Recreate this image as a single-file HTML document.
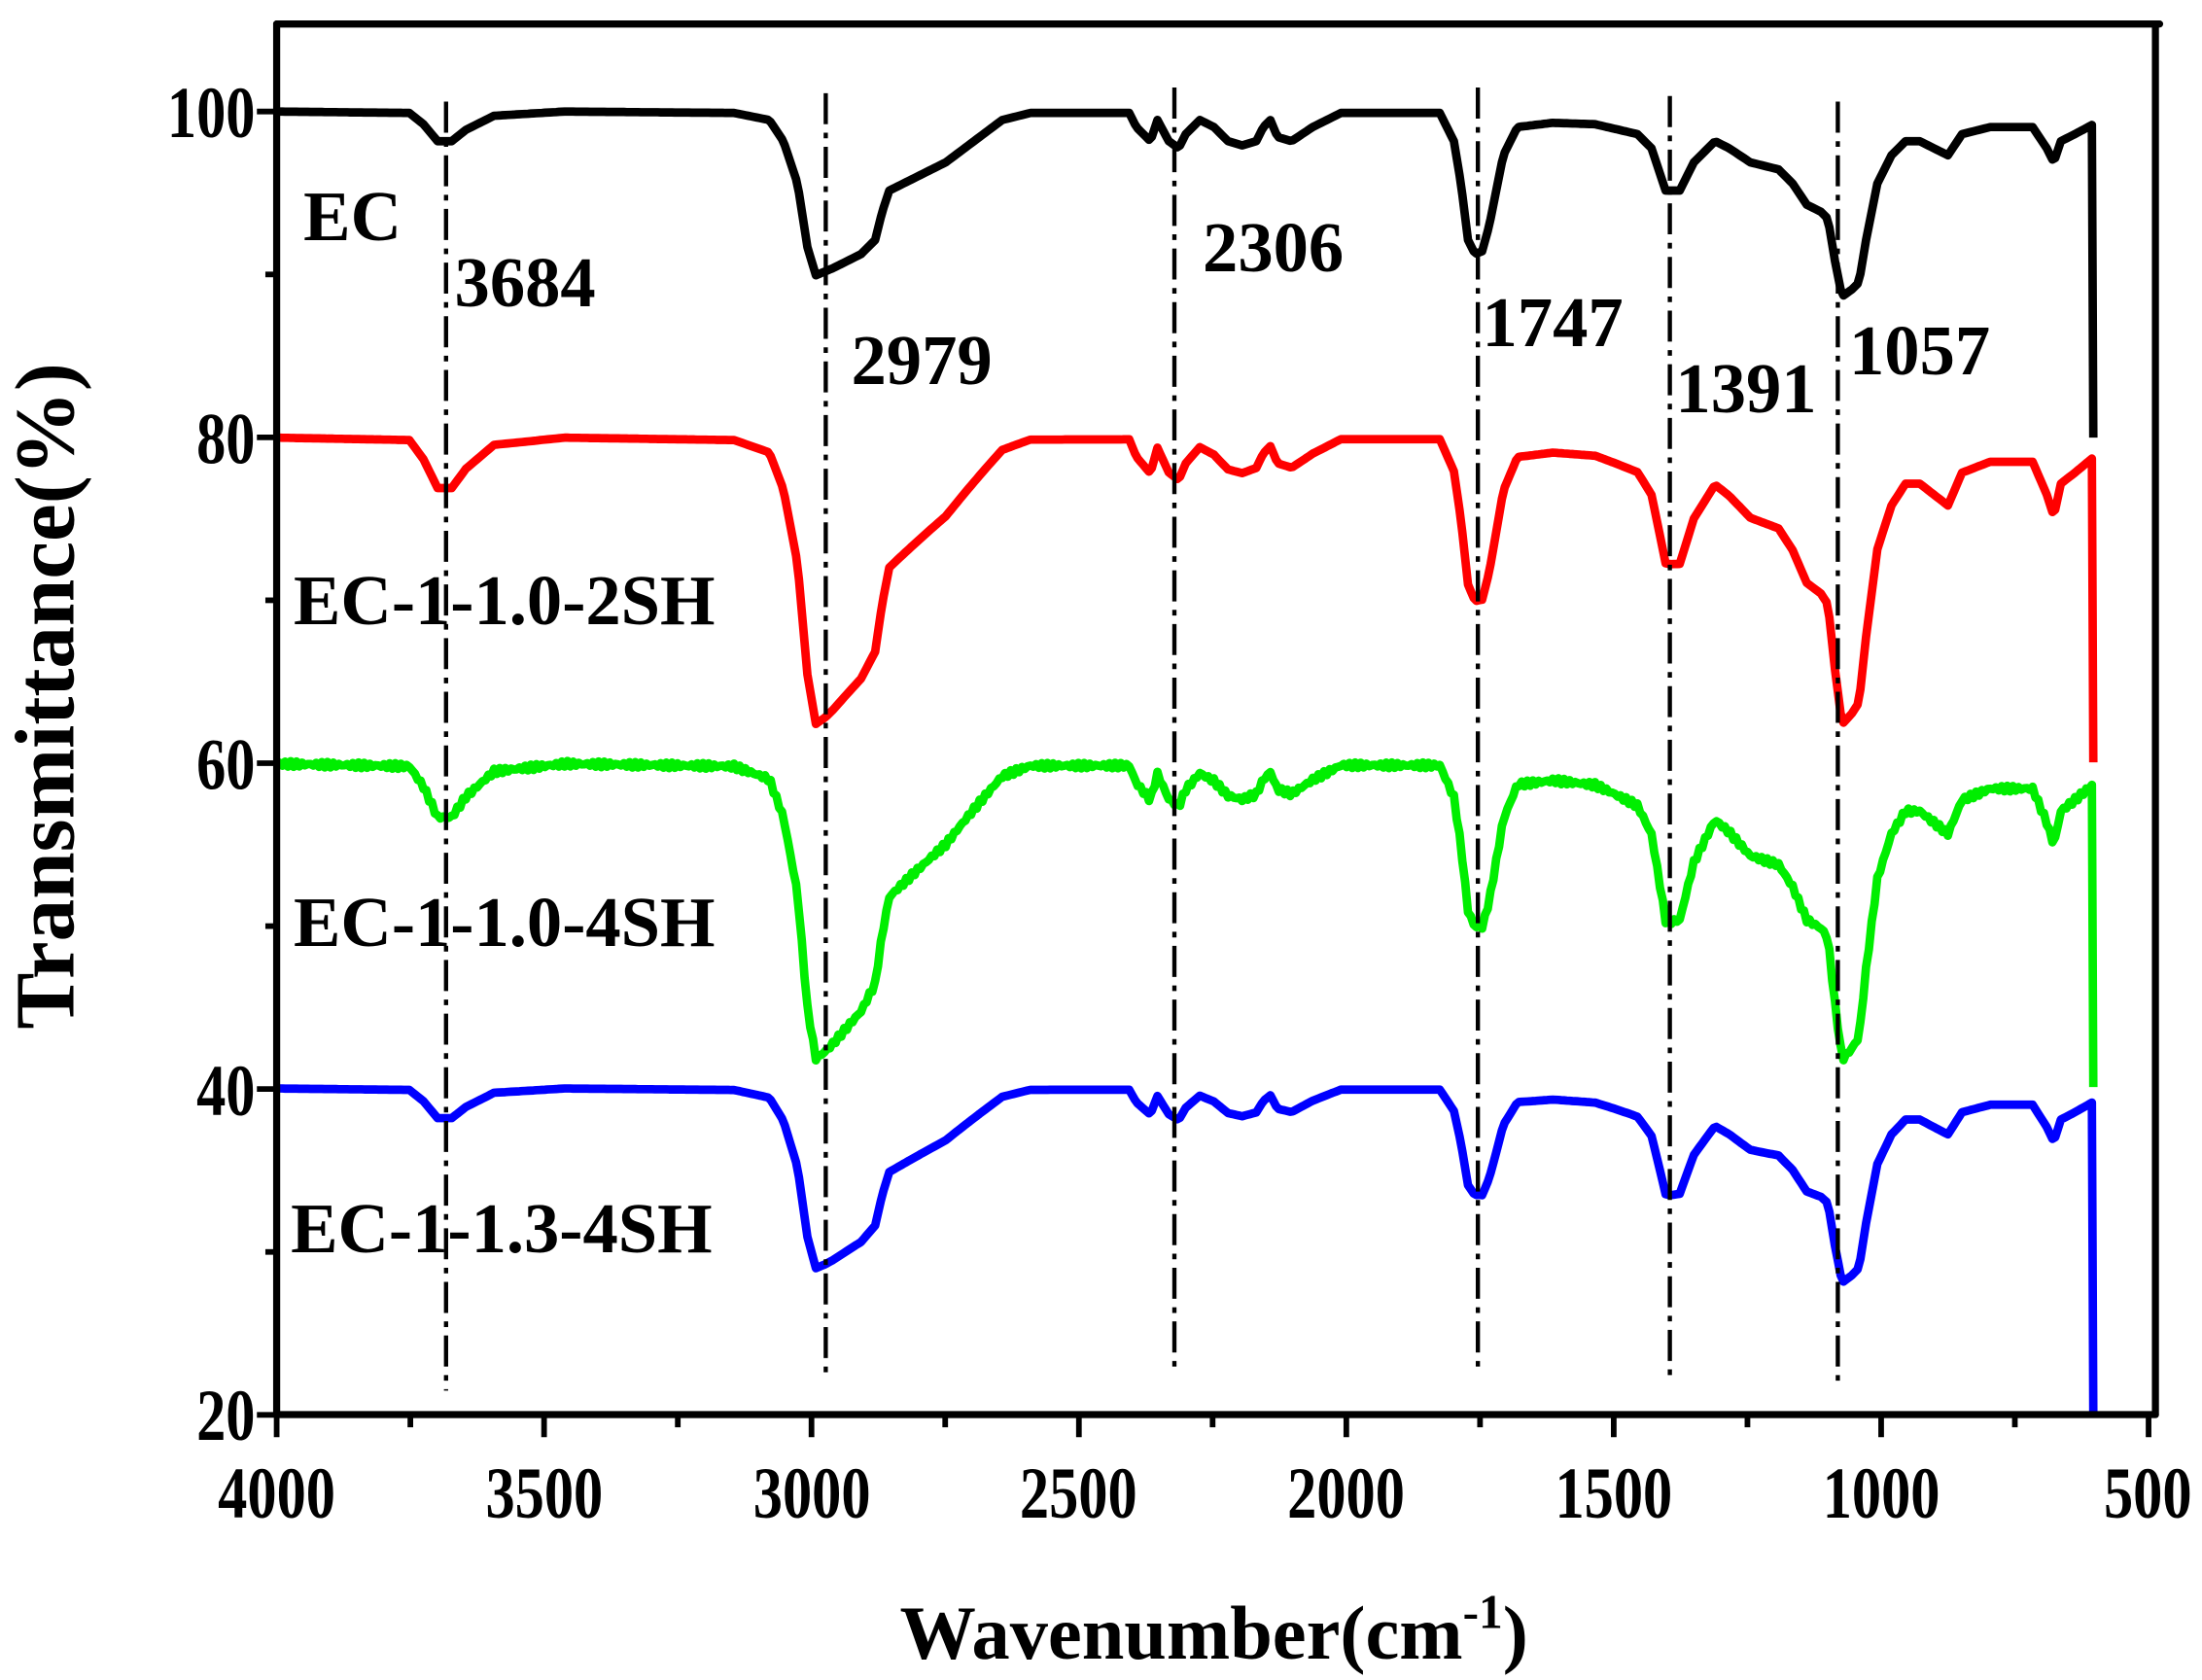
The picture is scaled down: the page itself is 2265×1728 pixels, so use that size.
<!DOCTYPE html>
<html><head><meta charset="utf-8"><style>
html,body{margin:0;padding:0;background:#fff;}
svg{display:block;}
text{font-family:"Liberation Serif",serif;font-weight:bold;fill:#000;}
</style></head><body>
<svg id="s" width="2265" height="1728" viewBox="0 0 1560 1190" preserveAspectRatio="none" xmlns="http://www.w3.org/2000/svg">
<g id="curves"></g>
<g stroke="#000" stroke-width="3" stroke-dasharray="22,6,4,6" fill="none">
<line x1="316" y1="72" x2="316" y2="985"/>
<line x1="585" y1="66" x2="585" y2="975"/>
<line x1="832" y1="62" x2="832" y2="970"/>
<line x1="1047" y1="62" x2="1047" y2="968"/>
<line x1="1183" y1="68" x2="1183" y2="978"/>
<line x1="1302" y1="72" x2="1302" y2="978"/>
</g>
<g stroke="#000" stroke-width="5" fill="none" stroke-linecap="round">
<line x1="196" y1="17" x2="196" y2="1002"/>
<line x1="196" y1="1002" x2="1527" y2="1002"/>
<line x1="196" y1="17" x2="1530" y2="17"/>
<line x1="1527" y1="17" x2="1527" y2="1002"/>
</g>
<g id="ticks" stroke="#000" stroke-width="4"></g>
<g font-size="52" text-anchor="middle" transform="scale(0.8,1)">
<text x="245" y="1075">4000</text><text x="482" y="1075">3500</text><text x="719" y="1075">3000</text>
<text x="955" y="1075">2500</text><text x="1192" y="1075">2000</text><text x="1429" y="1075">1500</text>
<text x="1666" y="1075">1000</text><text x="1902" y="1075">500</text>
</g>
<g font-size="52" text-anchor="end" transform="scale(0.8,1)">
<text x="226" y="97">100</text><text x="226" y="328">80</text><text x="226" y="559">60</text>
<text x="226" y="790">40</text><text x="226" y="1020">20</text>
</g>
<text x="860" y="1175" font-size="54" text-anchor="middle">Wavenumber(cm<tspan font-size="34" dy="-22">-1</tspan><tspan dy="22">)</tspan></text>
<text transform="translate(52,493) rotate(-90)" font-size="60" text-anchor="middle">Transmittance(%)</text>
<g font-size="50">
<text x="215" y="170">EC</text>
<text x="208" y="442">EC-1-1.0-2SH</text>
<text x="208" y="670">EC-1-1.0-4SH</text>
<text x="206" y="887">EC-1-1.3-4SH</text>
<text x="322" y="217">3684</text>
<text x="603" y="272">2979</text>
<text x="852" y="192">2306</text>
<text x="1050" y="245">1747</text>
<text x="1187" y="292">1391</text>
<text x="1310" y="265">1057</text>
</g>
</svg>
<script>
var P=[[196,79],[290,80],[300,88],[310,100],[320,100],[330,92],[350,82],[400,79],[520,80],[545,85],[555,100],[565,130],[572,175],[578,195],[590,190],[600,185],[610,180],[620,170],[625,150],[630,135],[650,125],[670,115],[690,100],[710,85],[730,80],[800,80],[805,90],[815,100],[820,85],[828,100],[835,105],[840,95],[850,85],[860,90],[870,100],[880,103],[890,100],[895,90],[900,85],[905,97],[915,100],[930,90],[950,80],[1020,80],[1030,100],[1035,130],[1040,170],[1045,180],[1050,178],[1055,160],[1065,110],[1075,90],[1100,87],[1130,88],[1160,95],[1170,105],[1175,120],[1180,135],[1190,135],[1200,115],[1215,100],[1225,105],[1240,115],[1260,120],[1270,130],[1280,145],[1290,150],[1295,155],[1300,185],[1305,210],[1312,205],[1317,200],[1322,170],[1330,130],[1340,110],[1350,100],[1360,100],[1370,105],[1380,110],[1390,95],[1410,90],[1440,90],[1450,105],[1455,115],[1460,100],[1470,95],[1483,88]];
var AX=[316,585,900,1047,1183,1302];
var S=[{c:"#000",o:0,f:[1,1,1,1,1,1],n:0,end:310},
{c:"#ff0000",o:231,f:[1.7,1.75,1,1.15,1.6,1.55],n:0,end:540},
{c:"#00ee00",o:462,f:[1.8,1.8,1,1.15,2.0,1.6],n:2,end:770},
{c:"#0000ff",o:692,f:[1.0,1.1,0.8,0.75,1.35,1.05],n:0,end:1002}];
function fac(x,f){if(x<=AX[0])return f[0];for(var i=0;i<AX.length-1;i++){if(x<=AX[i+1]){var t=(x-AX[i])/(AX[i+1]-AX[i]);return f[i]+(f[i+1]-f[i])*t;}}return f[f.length-1];}
function interp(x){for(var i=0;i<P.length-1;i++){if(x<=P[i+1][0]){var t=(x-P[i][0])/(P[i+1][0]-P[i][0]);return P[i][1]+(P[i+1][1]-P[i][1])*t;}}return P[P.length-1][1];}
var g=document.getElementById("curves"),h="";
S.forEach(function(s){var pts=[];for(var x=196;x<=1483;x+=2){var d=interp(x)-79;var y=79+s.o+d*fac(x,s.f)+(s.n?Math.sin(x*1.7)*s.n:0);pts.push(x+","+y.toFixed(1));}
pts.push("1483,"+s.end);h+='<polyline fill="none" stroke="'+s.c+'" stroke-width="6" stroke-linejoin="round" points="'+pts.join(" ")+'"/>';});
g.innerHTML=h;
var t="";for(var w=4000;w>=500;w-=250){var x=196+(4000-w)*0.3789;var L=(w%500==0)?16:9;t+='<line x1="'+x+'" y1="1002" x2="'+x+'" y2="'+(1002+L)+'"/>';}
for(var v=20;v<=100;v+=10){var y=79+(100-v)*11.54;var L=(v%20==0)?14:8;t+='<line x1="196" y1="'+y+'" x2="'+(196-L)+'" y2="'+y+'"/>';}
document.getElementById("ticks").innerHTML=t;
</script>
</body></html>
